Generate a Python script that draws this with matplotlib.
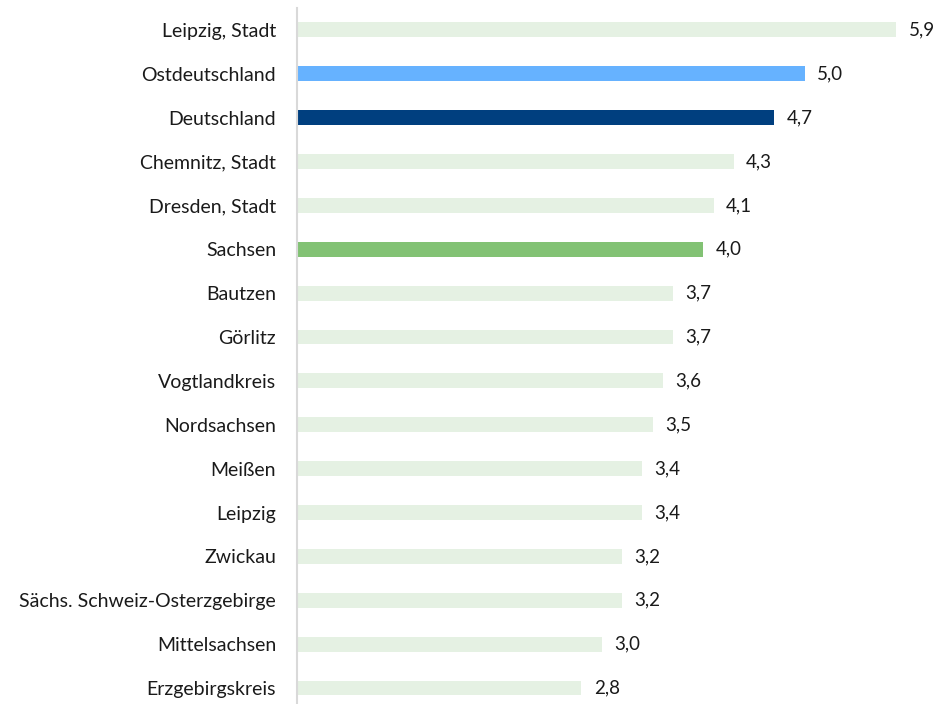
import matplotlib
matplotlib.use("Agg")
import matplotlib.pyplot as plt

regions = ["Leipzig, Stadt", "Ostdeutschland", "Deutschland", "Chemnitz, Stadt",
           "Dresden, Stadt", "Sachsen", "Bautzen", "Görlitz", "Vogtlandkreis",
           "Nordsachsen", "Meißen", "Leipzig", "Zwickau",
           "Sächs. Schweiz-Osterzgebirge", "Mittelsachsen", "Erzgebirgskreis"]
values = [5.9, 5.0, 4.7, 4.3, 4.1, 4.0, 3.7, 3.7, 3.6, 3.5, 3.4, 3.4, 3.2, 3.2, 3.0, 2.8]

light = "#E5F1E3"
special = {"Ostdeutschland": "#66B2FF", "Deutschland": "#003F7F", "Sachsen": "#82C274"}
colors = [special.get(r, light) for r in regions]

plt.rcParams["font.family"] = ["Lato", "DejaVu Sans"]

fig = plt.figure(figsize=(9.37, 7.04), dpi=100)
ax = fig.add_axes([297 / 937, 0.0, 1 - 297 / 937, 1 - 8 / 704])

y = range(len(regions))
ax.barh(y, values, height=0.34, color=colors)
for i, v in enumerate(values):
    ax.text(v + 0.12, i, f"{v:.1f}".replace(".", ","), va="center", ha="left",
            fontsize=13.5, color="#1a1a1a")

ax.set_xlim(0, 6.3)
ax.set_ylim(15.365, -0.5)
ax.set_yticks(list(y))
ax.set_yticklabels(regions, fontsize=14, color="#1a1a1a")
ax.tick_params(axis="y", length=0, pad=15)
ax.set_xticks([])
for s in ["top", "right", "bottom"]:
    ax.spines[s].set_visible(False)
ax.spines["left"].set_color("#D9D9D9")
ax.spines["left"].set_linewidth(1.5)

fig.savefig("out.png", dpi=100)
